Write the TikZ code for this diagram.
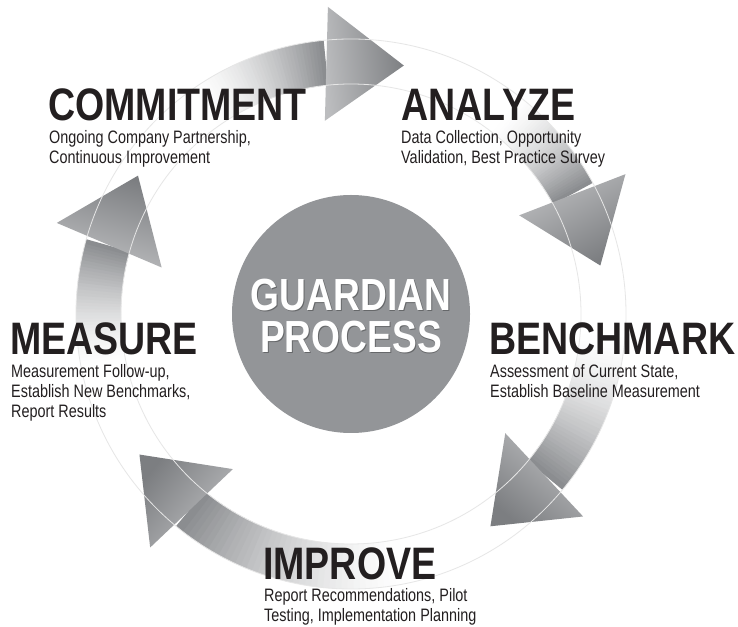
\documentclass[tikz,border=0pt]{standalone}
\usepackage{fontspec}
\usepackage{xcolor}
\usepackage{tikz}
\usetikzlibrary{positioning}

\newfontfamily\headfont[FakeStretch=0.825]{Liberation Sans}
\newfontfamily\bodyfont[FakeStretch=0.8]{Liberation Sans}

\definecolor{ink}{RGB}{35,31,32}
\definecolor{discgray}{RGB}{147,149,152}
\definecolor{bandgray}{RGB}{138,140,143}
\definecolor{headdark}{RGB}{124,126,129}
\definecolor{headlight}{RGB}{188,189,191}
\definecolor{ringline}{RGB}{230,230,230}

\begin{document}
\begin{tikzpicture}[x=1pt, y=1pt,
  stage/.style={font=\headfont\bfseries\fontsize{45.5}{45}\selectfont, text=ink, inner sep=0pt, anchor=base west},
  detail/.style={font=\bodyfont\fontsize{18}{20}\selectfont, text=ink, align=left, inner sep=0pt},
  disc/.style={circle, fill=discgray, minimum size=238pt, inner sep=0pt},
  coretext/.style={font=\headfont\bfseries\fontsize{45}{42}\selectfont, align=center, inner sep=0pt},
  ring/.style={draw=ringline, line width=0.8pt}]

  \path[fill=white, use as bounding box] (0,0) rectangle (738,626);

  % cycle arrows: tail angle / head base angle / tip angle
  \begin{scope}[shift={(351,312)}]
    \foreach \angTail/\angBase/\angTip in {125/96/78, 52/28.7/11, -5/-39.4/-56.7, 282/231/213.6, 192/164.5/147} {
      \foreach \i in {0,...,39} {
        \pgfmathsetmacro\sA{(\angTail)+((\angBase)-(\angTail))*\i/40}
        \pgfmathsetmacro\sB{(\angTail)+((\angBase)-(\angTail))*(\i+1.4)/40}
        \pgfmathtruncatemacro\p{100*(1-((\i+0.5)/40)^1.5)}
        \fill[white!\p!bandgray] (\sA:275pt) arc[start angle=\sA, end angle=\sB, radius=275pt]
          -- (\sB:230pt) arc[start angle=\sB, end angle=\sA, radius=230pt] -- cycle;
      }
      \pgfmathsetmacro\bIn{(\angBase)+1.7}
      \pgfmathsetmacro\bOut{(\angBase)-1.7}
      \pgfmathsetmacro\sAng{(\angBase)-180}
      \shade[top color=headdark, bottom color=headlight, shading angle=\sAng]
        (\bIn:195pt) -- (\bOut:308pt) -- (\angTip:254pt) -- cycle;
    }
    \draw[ring] (0,0) circle[radius=230pt];
    \draw[ring] (0,0) circle[radius=275pt];
  \end{scope}

  % centre
  \node[disc] (core) at (351,312) {};
  \node[coretext, text=black, text opacity=0.3] (coreShadow) at ([shift={(0.8,-3.5)}]core.center) {GUARDIAN\\PROCESS};
  \node[coretext, text=white] (coreLbl) at ([yshift=-2pt]core.center) {GUARDIAN\\PROCESS};

  % stages
  \node[stage] (commit) at (48,505) {COMMITMENT};
  \node[detail, below right=9pt and 1pt of commit.base west] (commitTxt) {Ongoing Company Partnership,\\Continuous Improvement};

  \node[stage] (analyze) at (401,505) {ANALYZE};
  \node[detail, below right=9pt and 0pt of analyze.base west] (analyzeTxt) {Data Collection, Opportunity\\Validation, Best Practice Survey};

  \node[stage] (bench) at (489,271) {BENCHMARK};
  \node[detail, below right=9pt and 1pt of bench.base west] (benchTxt) {Assessment of Current State,\\Establish Baseline Measurement};

  \node[stage] (measure) at (10,271) {MEASURE};
  \node[detail, below right=9pt and 1pt of measure.base west] (measureTxt) {Measurement Follow-up,\\Establish New Benchmarks,\\Report Results};

  \node[stage] (improve) at (263,47) {IMPROVE};
  \node[detail, below right=9pt and 1pt of improve.base west] (improveTxt) {Report Recommendations, Pilot\\Testing, Implementation Planning};

\end{tikzpicture}
\end{document}
